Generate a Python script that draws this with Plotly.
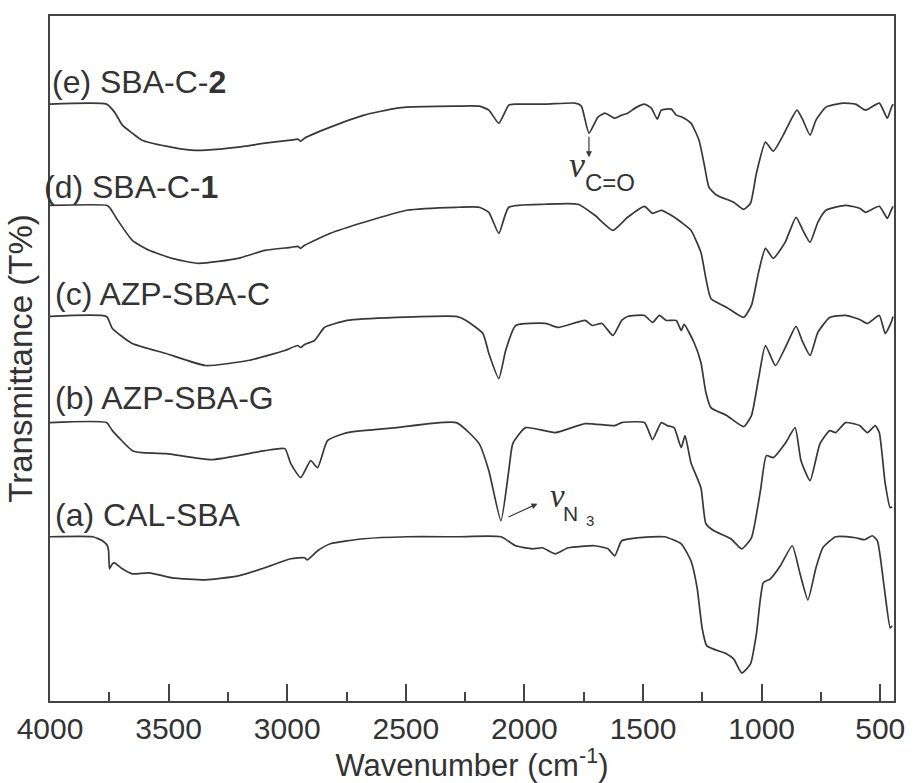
import plotly.graph_objects as go

# ---------------- data ----------------
# wavenumbers (cm^-1) and stacked transmittance values (arbitrary units, offset per curve)
wn_a = [4000, 3820, 3779, 3758, 3753, 3749, 3737, 3728, 3695, 3653, 3582, 3486, 3344, 3206, 3094,
        2985, 2927, 2915, 2872, 2818, 2676, 2496, 2287, 2099, 2037, 1966, 1924, 1870, 1815, 1703,
        1648, 1619, 1590, 1523, 1410, 1339, 1298, 1272, 1251, 1231, 1147, 1118, 1084, 1047, 1022,
        993, 963, 921, 871, 838, 805, 771, 742, 688, 604, 566, 533, 512, 483, 458, 450]
t_a = [164, 164, 160, 155, 150, 132, 137, 138, 132, 127, 128, 123, 121, 125, 133,
       142, 143, 141, 150, 157, 162, 164, 164, 164, 155, 152, 153, 147, 153, 155,
       152, 145, 160, 163, 164, 157, 140, 113, 73, 55, 47, 42, 28, 37, 67,
       118, 122, 135, 155, 127, 101, 133, 153, 164, 163, 161, 165, 160, 113, 73, 75]

wn_b = [4000, 3762, 3737, 3653, 3612, 3511, 3319, 3094, 3010, 2985, 2943, 2901, 2872, 2830, 2747,
        2538, 2287, 2191, 2150, 2099, 2066, 2049, 1995, 1870, 1744, 1619, 1590, 1494, 1460, 1423,
        1398, 1369, 1339, 1323, 1298, 1256, 1235, 1201, 1130, 1084, 1043, 1005, 980, 951, 901,
        859, 834, 796, 754, 713, 688, 646, 587, 554, 521, 504, 479, 458, 450]
t_b = [278, 278, 270, 250, 248, 247, 241, 250, 252, 237, 223, 240, 233, 260, 268,
       273, 278, 257, 230, 180, 230, 257, 273, 268, 277, 275, 278, 278, 261, 278,
       275, 273, 253, 265, 238, 213, 177, 170, 162, 152, 163, 210, 245, 243, 257,
       273, 240, 220, 257, 270, 268, 278, 275, 268, 275, 268, 217, 193, 194]

wn_c = [4000, 3762, 3737, 3653, 3511, 3344, 3165, 3010, 2956, 2943, 2927, 2885, 2843, 2747, 2538,
        2287, 2246, 2175, 2150, 2108, 2079, 2037, 1911, 1857, 1744, 1715, 1673, 1627, 1590, 1565,
        1494, 1460, 1431, 1402, 1360, 1339, 1327, 1285, 1256, 1235, 1214, 1147, 1076, 1043, 1013,
        984, 942, 896, 855, 826, 796, 763, 713, 646, 587, 554, 504, 479, 454, 446]
t_c = [384, 384, 372, 357, 347, 335, 340, 350, 355, 353, 356, 360, 373, 380, 383,
       384, 380, 367, 347, 322, 350, 375, 377, 373, 380, 375, 377, 365, 380, 384,
       385, 378, 385, 380, 380, 370, 376, 358, 338, 308, 293, 285, 274, 285, 322,
       355, 335, 355, 374, 358, 345, 368, 383, 385, 381, 377, 385, 367, 378, 384]

wn_d = [4000, 3762, 3749, 3720, 3653, 3582, 3486, 3373, 3206, 3094, 2985, 2956, 2943, 2927, 2818,
        2676, 2496, 2287, 2191, 2150, 2108, 2066, 1911, 1774, 1703, 1627, 1565, 1494, 1460, 1423,
        1381, 1339, 1298, 1256, 1235, 1214, 1147, 1076, 1043, 1013, 984, 951, 901, 855, 826,
        796, 763, 729, 646, 587, 562, 504, 470, 454, 446]
t_d = [495, 495, 493, 482, 460, 450, 442, 437, 442, 450, 453, 454, 452, 455, 467,
       478, 490, 493, 493, 488, 467, 493, 496, 496, 485, 470, 483, 494, 487, 490,
       485, 478, 470, 448, 422, 402, 393, 383, 395, 428, 452, 442, 458, 483, 470,
       458, 478, 490, 495, 492, 488, 494, 482, 490, 494]

wn_e = [4000, 3762, 3728, 3695, 3653, 3612, 3511, 3403, 3344, 3206, 3094, 2985, 2956, 2943, 2927,
        2818, 2676, 2538, 2496, 2287, 2191, 2150, 2108, 2066, 2037, 1911, 1786, 1760, 1728, 1690,
        1661, 1619, 1590, 1565, 1527, 1494, 1465, 1440, 1423, 1381, 1360, 1335, 1298, 1264, 1243,
        1222, 1189, 1118, 1076, 1047, 1022, 984, 951, 909, 851, 826, 796, 771, 729, 658,
        604, 562, 504, 470, 454, 446]
t_e = [596, 596, 588, 575, 567, 560, 554, 550, 550, 553, 557, 560, 561, 559, 562,
       573, 585, 592, 593, 594, 594, 590, 577, 595, 596, 596, 597, 594, 567, 583,
       587, 582, 585, 587, 593, 596, 592, 581, 590, 591, 585, 583, 577, 560, 537,
       513, 505, 498, 491, 497, 527, 558, 549, 565, 590, 580, 565, 580, 593, 597,
       596, 590, 597, 582, 592, 596]

series = [
    ("(a) CAL-SBA", wn_a, t_a),
    ("(b) AZP-SBA-G", wn_b, t_b),
    ("(c) AZP-SBA-C", wn_c, t_c),
    ("(d) SBA-C-1", wn_d, t_d),
    ("(e) SBA-C-2", wn_e, t_e),
]

# curve label texts
label_text = ["(a) CAL-SBA", "(b) AZP-SBA-G", "(c) AZP-SBA-C", "(d) SBA-C-<b>1</b>", "(e) SBA-C-<b>2</b>"]

x_tickvals = [4000, 3500, 3000, 2500, 2000, 1500, 1000, 500]

LINE = "#383838"
TXT = "#333333"
SANS = "Liberation Sans, Arial, sans-serif"
SERIF = "Liberation Serif, Times New Roman, serif"

fig = go.Figure()
for name, wn, t in series:
    fig.add_trace(go.Scatter(x=wn, y=t, mode="lines", name=name,
                             line=dict(color=LINE, width=1.7, shape="spline", smoothing=0.5),
                             showlegend=False, hoverinfo="skip"))

# label placement in paper coordinates (fraction of plot area)
label_pos = [(0.003, 0.271), (0.003, 0.442), (0.003, 0.594), (-0.009, 0.751), (0.0, 0.903)]

ann = []
for txt, (px, py) in zip(label_text, label_pos):
    ann.append(dict(x=px, y=py, xref="paper", yref="paper", text=txt, showarrow=False,
                    xanchor="left", yanchor="middle", font=dict(family=SANS, size=32, color=TXT)))

# nu(C=O) annotation
ann.append(dict(x=1728, y=543, ax=1728, ay=565, xref="x", yref="y", axref="x", ayref="y",
                text="", showarrow=True, arrowhead=2, arrowsize=1, arrowwidth=1.2, arrowcolor=LINE))
ann.append(dict(x=1780, y=535, xref="x", yref="y", text="<i>ν</i>", showarrow=False,
                font=dict(family=SERIF, size=36, color=TXT)))
ann.append(dict(x=1638, y=518, xref="x", yref="y", text="C=O", showarrow=False,
                font=dict(family=SANS, size=24, color=TXT)))

# nu(N3) annotation
ann.append(dict(x=1945, y=197, ax=2074, ay=183, xref="x", yref="y", axref="x", ayref="y",
                text="", showarrow=True, arrowhead=2, arrowsize=1, arrowwidth=1.2, arrowcolor=LINE))
ann.append(dict(x=1862, y=205, xref="x", yref="y", text="<i>ν</i>", showarrow=False,
                font=dict(family=SERIF, size=33, color=TXT)))
ann.append(dict(x=1805, y=187, xref="x", yref="y", text="N", showarrow=False,
                font=dict(family=SANS, size=21, color=TXT)))
ann.append(dict(x=1724, y=180, xref="x", yref="y", text="3", showarrow=False,
                font=dict(family=SANS, size=15, color=TXT)))

fig.update_layout(
    width=917, height=783,
    margin=dict(l=50, r=15, t=16, b=82),
    paper_bgcolor="white", plot_bgcolor="white",
    annotations=ann,
    xaxis=dict(
        range=[4000, 442], tickmode="array", tickvals=x_tickvals,
        ticks="inside", ticklen=17, tickwidth=1.5, tickcolor="#444",
        minor=dict(tickvals=[3750, 3250, 2750, 2250, 1750, 1250, 750], ticks="inside",
                   ticklen=9, tickwidth=1.5, tickcolor="#444"),
        showline=True, linecolor="#444", linewidth=1.5, mirror=True,
        showgrid=False, zeroline=False,
        tickfont=dict(family=SANS, size=30, color=TXT),
        title=dict(text="Wavenumber (cm<sup>-1</sup>)", font=dict(family=SANS, size=31, color=TXT),
                   standoff=2),
    ),
    yaxis=dict(
        range=[0, 684], showticklabels=False, ticks="",
        showline=True, linecolor="#444", linewidth=1.5, mirror=True,
        showgrid=False, zeroline=False,
        title=dict(text="Transmittance (T%)", font=dict(family=SANS, size=33, color=TXT),
                   standoff=6),
    ),
)

fig.write_html("out.html")
